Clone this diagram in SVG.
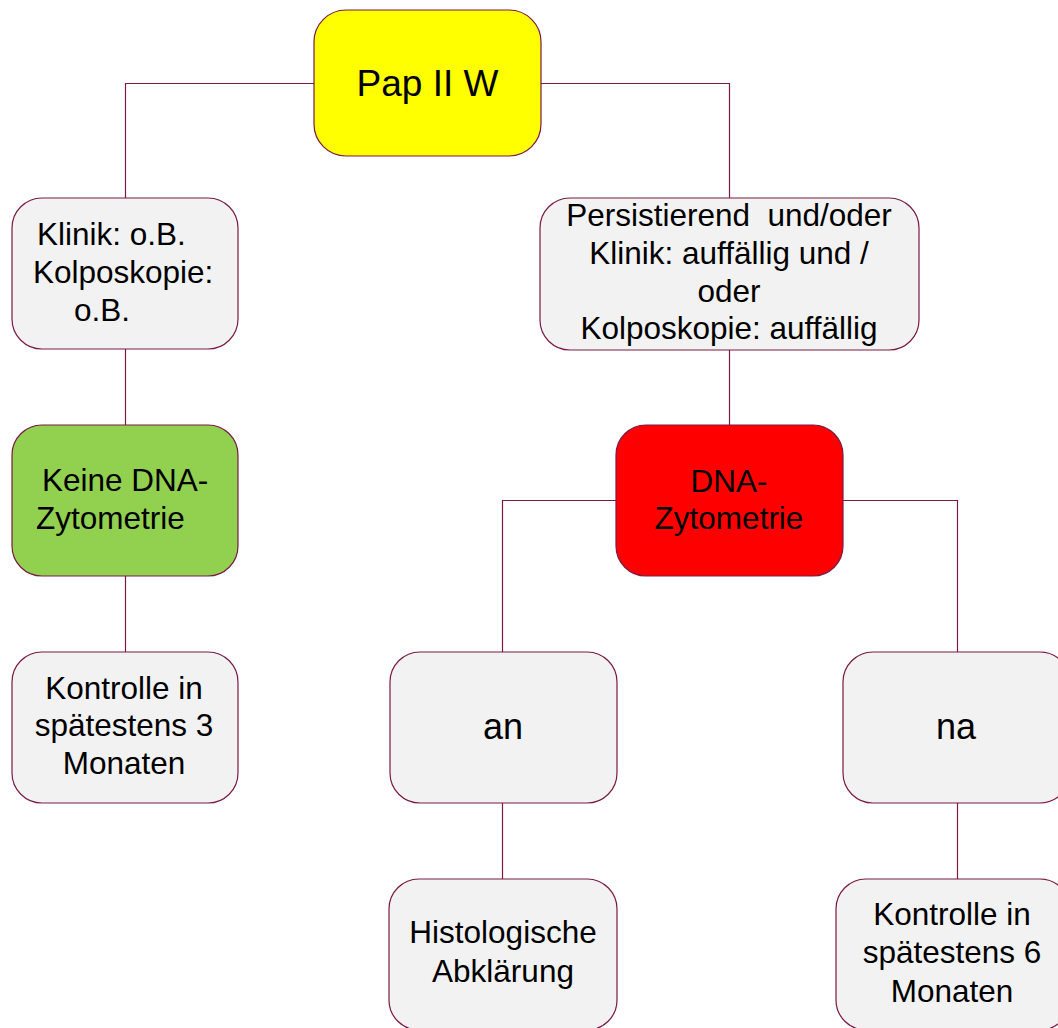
<svg xmlns="http://www.w3.org/2000/svg" width="1058" height="1028" viewBox="0 0 1058 1028">
  <style>
    .box { stroke: #7a1a45; stroke-width: 1.2; }
    .grey { fill: #f2f2f2; }
    .link { fill: none; stroke: #7a1a45; stroke-width: 1.2; }
    text { font-family: "Liberation Sans", Arial, sans-serif; font-size: 31.5px; fill: #000; }
    .c { text-anchor: middle; }
    .big { font-size: 37px; }
    .mid { font-size: 36px; }
  </style>
  <rect width="1058" height="1028" fill="#ffffff"/>

  <!-- tree connectors -->
  <g id="connectors">
    <path class="link" d="M314,83.5 H125.5 V198"/>
    <path class="link" d="M541,83.5 H729.5 V198"/>
    <path class="link" d="M125.5,349 V425"/>
    <path class="link" d="M125.5,576 V652"/>
    <path class="link" d="M729.5,350 V425"/>
    <path class="link" d="M616,500.5 H502.5 V652"/>
    <path class="link" d="M843,500.5 H957.5 V652"/>
    <path class="link" d="M502.5,803 V879"/>
    <path class="link" d="M957.5,803 V879"/>
  </g>

  <g id="pap">
    <rect class="box" x="314" y="10" width="227" height="146" rx="32" fill="#ffff00"/>
    <text class="c big" x="427.5" y="96">Pap II W</text>
  </g>

  <g id="klinik-ob">
    <rect class="box grey" x="12" y="198" width="226" height="151" rx="30"/>
    <text x="37" y="245">Klinik: o.B.</text>
    <text x="33" y="283">Kolposkopie:</text>
    <text x="74" y="321">o.B.</text>
  </g>

  <g id="persistierend">
    <rect class="box grey" x="540" y="198" width="379" height="152" rx="30"/>
    <text class="c" x="729" y="226" xml:space="preserve">Persistierend  und/oder</text>
    <text class="c" x="729" y="264">Klinik: auffällig und /</text>
    <text class="c" x="729" y="302">oder</text>
    <text class="c" x="729" y="339">Kolposkopie: auffällig</text>
  </g>

  <g id="keine-dna">
    <rect class="box" x="12" y="425" width="226" height="151" rx="30" fill="#92d050"/>
    <text x="42" y="491">Keine DNA-</text>
    <text x="36" y="529">Zytometrie</text>
  </g>

  <g id="dna">
    <rect class="box" x="616" y="425" width="227" height="151" rx="30" fill="#ff0000"/>
    <text class="c" x="729" y="492">DNA-</text>
    <text class="c" x="729" y="529">Zytometrie</text>
  </g>

  <g id="kontrolle-3">
    <rect class="box grey" x="12" y="652" width="226" height="151" rx="30"/>
    <text class="c" x="124" y="699">Kontrolle in</text>
    <text class="c" x="124" y="736">spätestens 3</text>
    <text class="c" x="124" y="774">Monaten</text>
  </g>

  <g id="an">
    <rect class="box grey" x="390" y="652" width="227" height="151" rx="30"/>
    <text class="c mid" x="503" y="739">an</text>
  </g>

  <g id="na">
    <rect class="box grey" x="843" y="652" width="227" height="151" rx="30"/>
    <text class="c mid" x="956" y="739">na</text>
  </g>

  <g id="histologie">
    <rect class="box grey" x="389" y="879" width="228" height="151" rx="30"/>
    <text class="c" x="503" y="943">Histologische</text>
    <text class="c" x="503" y="982">Abklärung</text>
  </g>

  <g id="kontrolle-6">
    <rect class="box grey" x="836" y="879" width="234" height="151" rx="30"/>
    <text class="c" x="952" y="925">Kontrolle in</text>
    <text class="c" x="952" y="963">spätestens 6</text>
    <text class="c" x="952" y="1002">Monaten</text>
  </g>
</svg>
